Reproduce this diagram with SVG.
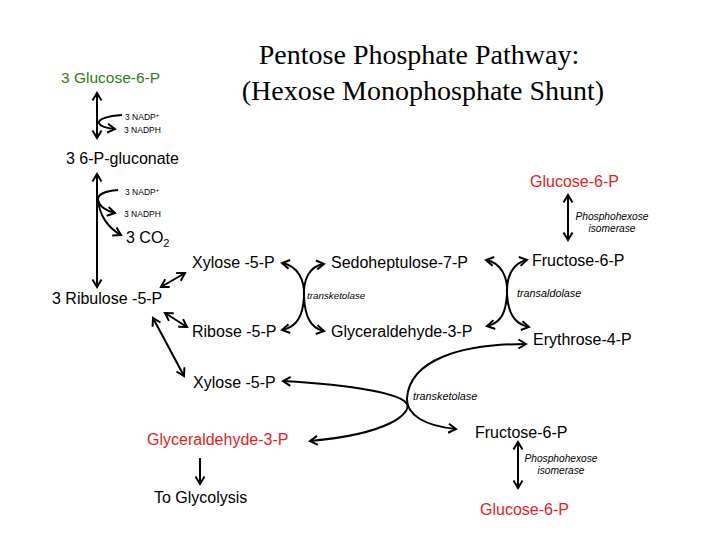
<svg xmlns="http://www.w3.org/2000/svg" width="720" height="540" viewBox="0 0 720 540">
<style>
.t{font-family:"Liberation Sans",Arial,sans-serif;font-size:16px;fill:#000}
.g{fill:#2f7d20}
.r{fill:#e3221c}
.s{font-family:"Liberation Sans",Arial,sans-serif;font-size:8.5px;fill:#000}
.i{font-family:"Liberation Sans",Arial,sans-serif;font-style:italic;font-size:10.8px;fill:#000}
.ttl{font-family:"Liberation Serif","Times New Roman",serif;font-size:28px;fill:#000;text-anchor:middle}
.c{fill:none;stroke:#000;stroke-width:2}
.b{marker-start:url(#ah);marker-end:url(#ah)}
.e{marker-end:url(#ah)}
</style>
<defs>
<marker id="ah" viewBox="0 0 12 12" refX="10" refY="6" markerWidth="12" markerHeight="12" markerUnits="userSpaceOnUse" orient="auto-start-reverse" overflow="visible">
<path d="M2.5,1.5 L10,6 L2.5,10.5" fill="none" stroke="#000" stroke-width="2"/>
</marker>
</defs>
<rect width="720" height="540" fill="#fff"/>
<g id="title">
<text class="ttl" x="419" y="64">Pentose Phosphate Pathway:</text>
<text class="ttl" x="423" y="100">(Hexose Monophosphate Shunt)</text>
</g>
<g id="connectors">
<path class="c b" d="M97,93 L97,138"/>
<path class="c e" d="M122,115 C108,116 98,119 99,123 C100,126 106,128 115,129"/>
<path class="c b" d="M97,174 L97,287"/>
<path class="c e" d="M118,190 C104,191 97,195 98,200 C99,206 106,211 115,213"/>
<path class="c e" d="M98,199 C99,215 108,228 121,235"/>
<path class="c b" d="M161,287 L185,273"/>
<path class="c b" d="M165,313 L187,327"/>
<path class="c b" d="M153,318 L184,376"/>
<path class="c b" d="M282,263 C298,266 305,280 304,297 C303,314 298,327 282,330"/>
<path class="c b" d="M324,264 C309,266 303,280 304,297 C305,314 309,328 324,331"/>
<path class="c b" d="M486,260 C502,263 508,278 507,294 C506,311 502,323 487,326"/>
<path class="c b" d="M527,260 C512,263 506,278 507,294 C508,311 513,324 529,327"/>
<path class="c b" d="M568,195 L568,240"/>
<path class="c b" d="M283,381 C355,385 402,394 407,404 C411,413 390,434 310,441"/>
<path class="c b" d="M526,344 C460,344 410,360 407,398 C406,415 425,426 456,429"/>
<path class="c e" d="M200,458 L200,484"/>
<path class="c b" d="M518,442 L518,488"/>
</g>
<g id="glucose6p-left"><text class="t g" x="61" y="83" style="font-size:15.5px">3 Glucose-6-P</text></g>
<g id="nadp1"><text class="s" x="125" y="120">3 NADP<tspan dy="-3" font-size="6">+</tspan></text></g>
<g id="nadph1"><text class="s" x="124" y="132.5">3 NADPH</text></g>
<g id="gluconate"><text class="t" x="66" y="164">3 6-P-gluconate</text></g>
<g id="nadp2"><text class="s" x="125" y="195">3 NADP<tspan dy="-3" font-size="6">+</tspan></text></g>
<g id="nadph2"><text class="s" x="124" y="216.5">3 NADPH</text></g>
<g id="co2"><text class="t" x="126" y="243">3 CO<tspan dy="4" font-size="11">2</tspan></text></g>
<g id="ribulose"><text class="t" x="52" y="304">3 Ribulose -5-P</text></g>
<g id="xylose1"><text class="t" x="192" y="268">Xylose -5-P</text></g>
<g id="ribose"><text class="t" x="192" y="337">Ribose -5-P</text></g>
<g id="xylose2"><text class="t" x="193" y="388">Xylose -5-P</text></g>
<g id="sedoheptulose"><text class="t" x="331" y="268">Sedoheptulose-7-P</text></g>
<g id="gap1"><text class="t" x="331" y="337">Glyceraldehyde-3-P</text></g>
<g id="transketolase1"><text class="i" x="307" y="299" style="font-size:9.8px">transketolase</text></g>
<g id="fructose1"><text class="t" x="532" y="266">Fructose-6-P</text></g>
<g id="erythrose"><text class="t" x="533" y="345">Erythrose-4-P</text></g>
<g id="transaldolase"><text class="i" x="517" y="297">transaldolase</text></g>
<g id="glucose6p-top"><text class="t r" x="530" y="187">Glucose-6-P</text></g>
<g id="isomerase1"><text class="i" x="612" y="220" text-anchor="middle" style="font-size:10.2px">Phosphohexose</text><text class="i" x="612" y="232" text-anchor="middle" style="font-size:10.2px">isomerase</text></g>
<g id="transketolase2"><text class="i" x="413" y="400">transketolase</text></g>
<g id="fructose2"><text class="t" x="475" y="438">Fructose-6-P</text></g>
<g id="isomerase2"><text class="i" x="561" y="462" text-anchor="middle" style="font-size:10.2px">Phosphohexose</text><text class="i" x="561" y="474" text-anchor="middle" style="font-size:10.2px">isomerase</text></g>
<g id="glucose6p-bottom"><text class="t r" x="480" y="515">Glucose-6-P</text></g>
<g id="gap2"><text class="t r" x="147" y="445">Glyceraldehyde-3-P</text></g>
<g id="glycolysis"><text class="t" x="154" y="503">To Glycolysis</text></g>
</svg>
